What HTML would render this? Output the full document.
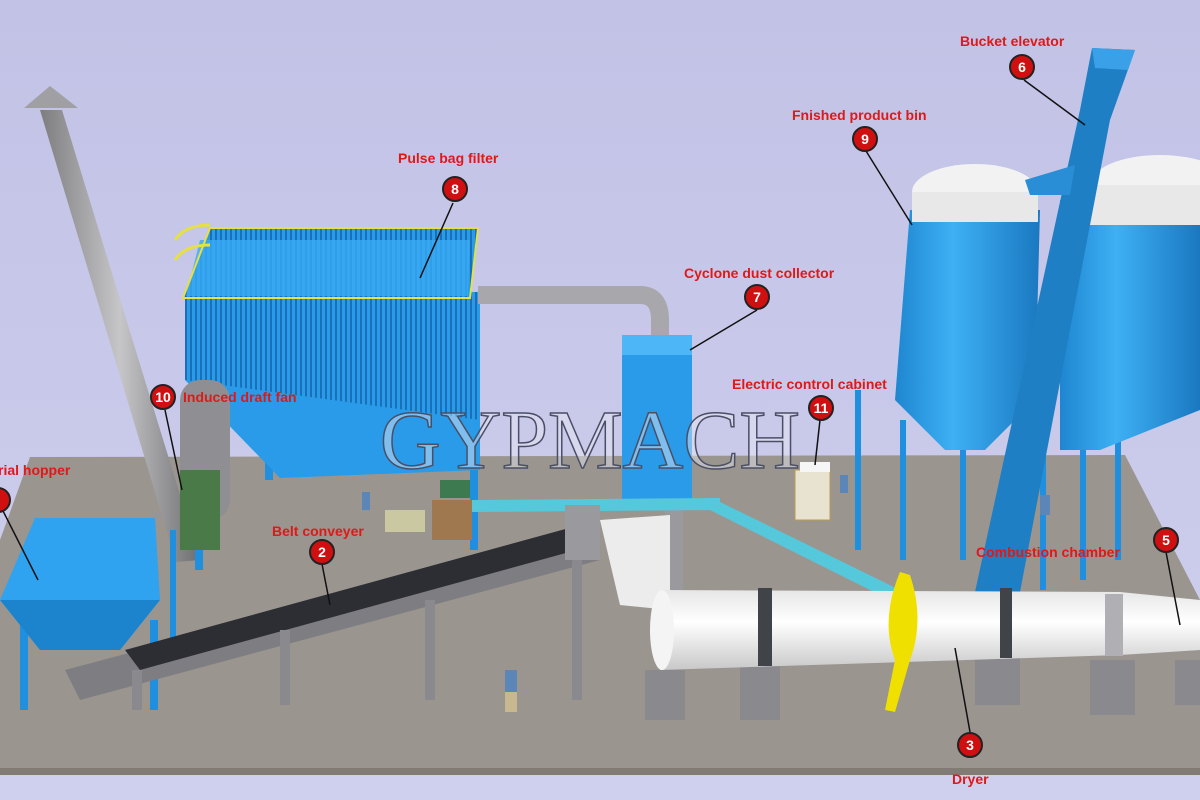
<!DOCTYPE html>
<html><head><meta charset="utf-8"><style>
html,body{margin:0;padding:0;background:#c9c9ea;}
svg{display:block}
</style></head><body>
<svg width="1200" height="800" viewBox="0 0 1200 800" font-family="Liberation Sans, sans-serif">
<defs>
<linearGradient id="bg" x1="0" y1="0" x2="0" y2="1"><stop offset="0" stop-color="#c2c2e6"/><stop offset="1" stop-color="#cfd0ee"/></linearGradient>
<linearGradient id="pole" x1="0" y1="0" x2="1" y2="0"><stop offset="0" stop-color="#7d7d80"/><stop offset="0.5" stop-color="#c6c6c8"/><stop offset="1" stop-color="#6e6e70"/></linearGradient>
<linearGradient id="silo" x1="0" y1="0" x2="1" y2="0"><stop offset="0" stop-color="#1e86d0"/><stop offset="0.4" stop-color="#3eb0f4"/><stop offset="1" stop-color="#1a78c0"/></linearGradient>
<linearGradient id="dry" x1="0" y1="0" x2="0" y2="1"><stop offset="0" stop-color="#e6e6e6"/><stop offset="0.4" stop-color="#ffffff"/><stop offset="1" stop-color="#c8c8c8"/></linearGradient>
<pattern id="fins" width="5" height="10" patternUnits="userSpaceOnUse"><rect width="5" height="10" fill="#2a9be8"/><rect width="2" height="10" fill="#1a70b8"/></pattern>
</defs>
<rect width="1200" height="800" fill="url(#bg)"/>
<polygon points="30,457 1125,455 1200,600 1200,770 0,770 0,540" fill="#9a958f"/>
<rect x="0" y="768" width="1200" height="7" fill="#807b75"/>
<polygon points="40,110 62,110 200,560 176,562" fill="url(#pole)"/>
<polygon points="24,108 50,86 78,108" fill="#a0a0a4"/>
<rect x="195" y="430" width="8" height="140" fill="#1f8fe0"/>
<rect x="470" y="430" width="8" height="120" fill="#1f8fe0"/>
<rect x="265" y="430" width="8" height="50" fill="#1f8fe0"/>
<polygon points="185,290 480,292 480,470 185,380" fill="url(#fins)"/>
<polygon points="185,380 480,420 480,470 280,478" fill="#2a9be8"/>
<polygon points="210,228 478,228 470,298 183,298" fill="url(#fins)"/>
<polygon points="200,240 470,240 468,296 186,296" fill="#3aaaf4" opacity="0.8"/>
<polygon points="210,228 478,228 470,298 183,298" fill="none" stroke="#e6e040" stroke-width="2"/>
<path d="M175,240 q10,-15 35,-15 M175,260 q10,-15 35,-15" stroke="#e6e040" stroke-width="3" fill="none"/>
<rect x="180" y="380" width="50" height="140" rx="20" fill="#8f8f93"/>
<rect x="180" y="470" width="40" height="80" fill="#4a7a48"/>
<path d="M478,295 L640,295 Q660,295 660,320 L660,340" stroke="#a8a8ac" stroke-width="18" fill="none"/>
<rect x="622" y="335" width="70" height="165" fill="#2a9be8"/>
<rect x="622" y="335" width="70" height="20" fill="#4db6f6"/>
<rect x="665" y="500" width="18" height="90" fill="#9a9a9e"/>
<polygon points="470,500 720,498 720,510 470,512" fill="#56c8dc"/>
<polygon points="700,505 720,502 900,590 890,600" fill="#56c8dc"/>
<g fill="#1f8fe0">
<rect x="855" y="390" width="6" height="160"/><rect x="900" y="420" width="6" height="140"/><rect x="960" y="410" width="6" height="150"/><rect x="1020" y="400" width="6" height="150"/>
<rect x="1040" y="430" width="6" height="160"/><rect x="1080" y="430" width="6" height="150"/><rect x="1115" y="420" width="6" height="140"/>
</g>
<path d="M910,210 L1040,210 L1035,400 L985,450 L945,450 L895,400 Z" fill="url(#silo)"/>
<ellipse cx="975" cy="192" rx="63" ry="28" fill="#f2f2f2"/>
<rect x="912" y="192" width="126" height="30" fill="#e8e8e8"/>
<path d="M1060,200 L1200,200 L1200,410 L1100,450 L1060,450 Z" fill="url(#silo)"/>
<ellipse cx="1160" cy="185" rx="70" ry="30" fill="#f2f2f2"/>
<rect x="1090" y="185" width="110" height="40" fill="#e8e8e8"/>
<polygon points="1092,48 1135,50 1110,120 1020,592 975,592 1080,110" fill="#1f7fc4"/>
<polygon points="1092,48 1135,50 1128,70 1095,68" fill="#3aa0e8"/>
<polygon points="1025,180 1075,165 1070,195 1030,195" fill="#2a8ed6"/>
<rect x="795" y="470" width="35" height="50" fill="#e8e2d0" stroke="#b89a50"/>
<rect x="800" y="462" width="30" height="10" fill="#f6f6f6"/>
<rect x="432" y="500" width="40" height="40" fill="#a07850"/>
<rect x="385" y="510" width="40" height="22" fill="#c9c8a0"/>
<rect x="440" y="480" width="30" height="18" fill="#3d7a50"/>
<g fill="#1f8fe0">
<rect x="20" y="620" width="8" height="90"/><rect x="150" y="620" width="8" height="90"/><rect x="170" y="530" width="6" height="110"/>
</g>
<polygon points="0,600 35,518 155,518 160,600 120,650 40,650" fill="#2fa3f0"/>
<polygon points="0,600 160,600 120,650 40,650" fill="#1c84cc"/>
<polygon points="65,670 590,530 600,560 80,700" fill="#7e7e82"/>
<polygon points="125,650 580,525 595,545 140,670" fill="#2c2e33"/>
<g fill="#8a8a8e">
<rect x="132" y="670" width="10" height="40"/><rect x="280" y="630" width="10" height="75"/><rect x="425" y="600" width="10" height="100"/><rect x="572" y="560" width="10" height="140"/>
</g>
<rect x="565" y="505" width="35" height="55" fill="#9a9a9e"/>
<polygon points="600,520 670,515 670,610 620,605" fill="#ececec"/>
<g fill="#8a8a8e">
<rect x="645" y="670" width="40" height="50"/><rect x="740" y="665" width="40" height="55"/><rect x="975" y="650" width="45" height="55"/><rect x="1090" y="660" width="45" height="55"/><rect x="1175" y="660" width="25" height="45"/>
</g>
<polygon points="660,590 1120,592 1200,600 1200,650 1120,655 660,670" fill="url(#dry)"/>
<ellipse cx="662" cy="630" rx="12" ry="40" fill="#f4f4f4"/>
<rect x="758" y="588" width="14" height="78" fill="#404448"/>
<rect x="1000" y="588" width="12" height="70" fill="#404448"/>
<rect x="1105" y="594" width="18" height="62" fill="#b0b0b4"/>
<path d="M900,572 Q880,620 895,660 L885,710 L895,712 L910,660 Q925,620 910,575 Z" fill="#f0e000"/>
<g fill="#5c86b8"><rect x="505" y="670" width="12" height="22"/><rect x="362" y="492" width="8" height="18"/><rect x="840" y="475" width="8" height="18"/><rect x="1040" y="495" width="10" height="20"/></g>
<g fill="#c8b890"><rect x="505" y="692" width="12" height="20"/></g>
<text x="590" y="468" font-family="Liberation Serif, serif" font-size="84" fill="#e8e8f4" fill-opacity="0.45" stroke="#4a4f66" stroke-width="1.5" text-anchor="middle">GYPMACH</text>
<g stroke="#111" stroke-width="1.5">
<line x1="453" y1="203" x2="420" y2="278"/>
<line x1="1024" y1="80" x2="1085" y2="125"/>
<line x1="866" y1="151" x2="912" y2="225"/>
<line x1="757" y1="310" x2="690" y2="350"/>
<line x1="820" y1="420" x2="815" y2="465"/>
<line x1="165" y1="410" x2="182" y2="490"/>
<line x1="0" y1="505" x2="38" y2="580"/>
<line x1="322" y1="564" x2="330" y2="605"/>
<line x1="1166" y1="552" x2="1180" y2="625"/>
<line x1="970" y1="732" x2="955" y2="648"/>
</g>
<g font-size="14" font-weight="bold" text-anchor="middle">
<g><circle cx="455" cy="189" r="12" fill="#d01010" stroke="#222" stroke-width="2"/><text x="455" y="194" fill="#fff">8</text></g>
<g><circle cx="1022" cy="67" r="12" fill="#d01010" stroke="#222" stroke-width="2"/><text x="1022" y="72" fill="#fff">6</text></g>
<g><circle cx="865" cy="139" r="12" fill="#d01010" stroke="#222" stroke-width="2"/><text x="865" y="144" fill="#fff">9</text></g>
<g><circle cx="757" cy="297" r="12" fill="#d01010" stroke="#222" stroke-width="2"/><text x="757" y="302" fill="#fff">7</text></g>
<g><circle cx="821" cy="408" r="12" fill="#d01010" stroke="#222" stroke-width="2"/><text x="821" y="413" fill="#fff">11</text></g>
<g><circle cx="163" cy="397" r="12" fill="#d01010" stroke="#222" stroke-width="2"/><text x="163" y="402" fill="#fff">10</text></g>
<g><circle cx="322" cy="552" r="12" fill="#d01010" stroke="#222" stroke-width="2"/><text x="322" y="557" fill="#fff">2</text></g>
<g><circle cx="1166" cy="540" r="12" fill="#d01010" stroke="#222" stroke-width="2"/><text x="1166" y="545" fill="#fff">5</text></g>
<g><circle cx="970" cy="745" r="12" fill="#d01010" stroke="#222" stroke-width="2"/><text x="970" y="750" fill="#fff">3</text></g>
<g><circle cx="-2" cy="500" r="12" fill="#d01010" stroke="#222" stroke-width="2"/></g>
</g>
<g font-size="14" font-weight="bold" fill="#e01818">
<text x="398" y="163">Pulse bag filter</text>
<text x="960" y="46">Bucket elevator</text>
<text x="792" y="120">Fnished product bin</text>
<text x="684" y="278">Cyclone dust collector</text>
<text x="732" y="389">Electric control cabinet</text>
<text x="183" y="402">Induced draft fan</text>
<text x="-2" y="475">rial hopper</text>
<text x="272" y="536">Belt conveyer</text>
<text x="976" y="557">Combustion chamber</text>
<text x="952" y="784">Dryer</text>
</g>
</svg>
</body></html>
